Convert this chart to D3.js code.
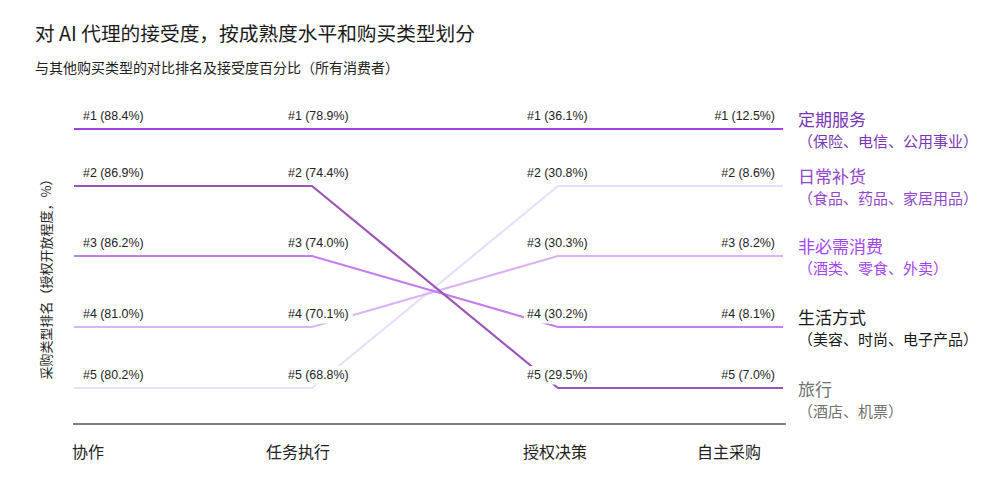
<!DOCTYPE html>
<html>
<head>
<meta charset="utf-8">
<script src="https://cdn.jsdelivr.net/npm/d3@7"></script>
<style>
  body { margin: 0; background: #fff; }
  text { font-family: "Noto Sans CJK SC", "Noto Sans", sans-serif; }
  .val { font-family: "Liberation Sans", Arial, sans-serif; font-size: 12.4px; fill: #222; }
  .val-bg { fill: #fff; }
  .line { fill: none; stroke-width: 2.2; stroke-linejoin: miter; }
</style>
</head>
<body>
<svg id="chart" width="1000" height="500"></svg>
<script>
// Stages of maturity (columns) and purchase types (rows)
var stages = ['协作', '任务执行', '授权决策', '自主采购'];
var categories = ['定期服务', '日常补货', '非必需消费', '生活方式', '旅行'];
var categoryNotes = ['（保险、电信、公用事业）', '（食品、药品、家居用品）', '（酒类、零食、外卖）', '（美容、时尚、电子产品）', '（酒店、机票）'];
var rankTicks = [1, 2, 3, 4, 5];

// rank of each purchase type per stage
var ranks = [
  [1, 1, 1, 1],
  [5, 5, 2, 2],
  [4, 4, 3, 3],
  [3, 3, 4, 4],
  [2, 2, 5, 5]
];
// acceptance % per stage
var values = [
  [88.4, 78.9, 36.1, 12.5],
  [80.2, 68.8, 30.8, 8.6],
  [81.0, 70.1, 30.3, 8.2],
  [86.2, 74.0, 30.2, 8.1],
  [86.9, 74.4, 29.5, 7.0]
];

var svg = d3.select('#chart');

var x = d3.scaleOrdinal().domain(stages).range([74, 312, 558, 783]);
var y = d3.scaleLinear().domain(rankTicks).range([129, 186, 256, 327, 388]);

var lineColor = d3.scaleOrdinal().domain(categories)
    .range(['#a43ee6', '#e6e0fc', '#dab4f9', '#c47ef0', '#9a55b6']);
var legendColor = d3.scaleOrdinal().domain(categories)
    .range(['#7a36b6', '#9146cc', '#a244f0', '#1a1a1a', '#707070']);

// titles
svg.append('text')
  .attr('x', 35).attr('y', 41)
  .attr('font-size', 19.7)
  .attr('fill', '#1a1a1a')
  .text('对 AI 代理的接受度，按成熟度水平和购买类型划分');

svg.append('text')
  .attr('x', 35).attr('y', 73)
  .attr('font-size', 14)
  .attr('fill', '#222')
  .text('与其他购买类型的对比排名及接受度百分比（所有消费者）');

// y axis title
svg.append('text')
  .attr('transform', 'translate(51,276) rotate(-90)')
  .attr('text-anchor', 'middle')
  .attr('font-size', 13)
  .attr('fill', '#222')
  .text('采购类型排名（授权开放程度，%）');

// bottom axis line + stage names
svg.append('line')
  .attr('x1', x(stages[0]) - 1)
  .attr('x2', x(stages[stages.length - 1]) + 3)
  .attr('y1', 424).attr('y2', 424)
  .attr('stroke', '#555')
  .attr('stroke-width', 1.5);

var stageShift = [-2, -46, -35, -86];
svg.append('g').selectAll('text')
  .data(stages).enter()
  .append('text')
    .attr('x', function (d, i) { return x(d) + stageShift[i]; })
    .attr('y', 458)
    .attr('font-size', 16)
    .attr('fill', '#222')
    .text(function (d) { return d; });

// lines, lightest first so darker ones sit on top
var line = d3.line()
    .x(function (d, i) { return x(stages[i]); })
    .y(function (d) { return y(d); });

var drawOrder = [1, 2, 3, 4, 0];
svg.append('g').selectAll('path')
  .data(drawOrder).enter()
  .append('path')
    .attr('class', 'line')
    .attr('stroke', function (c) { return lineColor(categories[c]); })
    .attr('d', function (c) { return line(ranks[c]); });

// value labels with white backing that hides the lines behind them
var labelData = [];
categories.forEach(function (cat, c) {
  stages.forEach(function (st, s) {
    labelData.push({ stage: s, rank: ranks[c][s], value: values[c][s] });
  });
});

var labelPos = [
  { dx: 9, anchor: 'start' },
  { dx: -24, anchor: 'start' },
  { dx: -31, anchor: 'start' },
  { dx: -8, anchor: 'end' }
];

var labels = svg.append('g').selectAll('g')
  .data(labelData).enter()
  .append('g');

labels.append('text')
  .attr('class', 'val')
  .attr('x', function (d) { return x(stages[d.stage]) + labelPos[d.stage].dx; })
  .attr('y', function (d) { return y(d.rank) - 9; })
  .attr('text-anchor', function (d) { return labelPos[d.stage].anchor; })
  .text(function (d) { return '#' + d.rank + ' (' + d.value.toFixed(1) + '%)'; });

labels
  .each(function (d) { d.bbox = d3.select(this).select('text').node().getBBox(); })
  .insert('rect', 'text')
    .attr('class', 'val-bg')
    .attr('x', function (d) { return d.bbox.x - 3; })
    .attr('y', function (d) { return d.bbox.y - 2; })
    .attr('width', function (d) { return d.bbox.width + 7; })
    .attr('height', function (d) { return d.bbox.height + 4.5; });

// legend at final ranks
var legendShift = function (r) { return r === 5 ? 8 : -3; };
var legend = svg.append('g').selectAll('g')
  .data(categories).enter()
  .append('g')
    .attr('transform', function (d, i) {
      var r = ranks[i][stages.length - 1];
      return 'translate(798,' + (y(r) + legendShift(r)) + ')';
    });

legend.append('text')
  .attr('font-size', 17)
  .attr('fill', function (d) { return legendColor(d); })
  .text(function (d) { return d; });

legend.append('text')
  .attr('y', 21)
  .attr('font-size', 15)
  .attr('fill', function (d) { return legendColor(d); })
  .text(function (d, i) { return categoryNotes[i]; });
</script>
</body>
</html>
